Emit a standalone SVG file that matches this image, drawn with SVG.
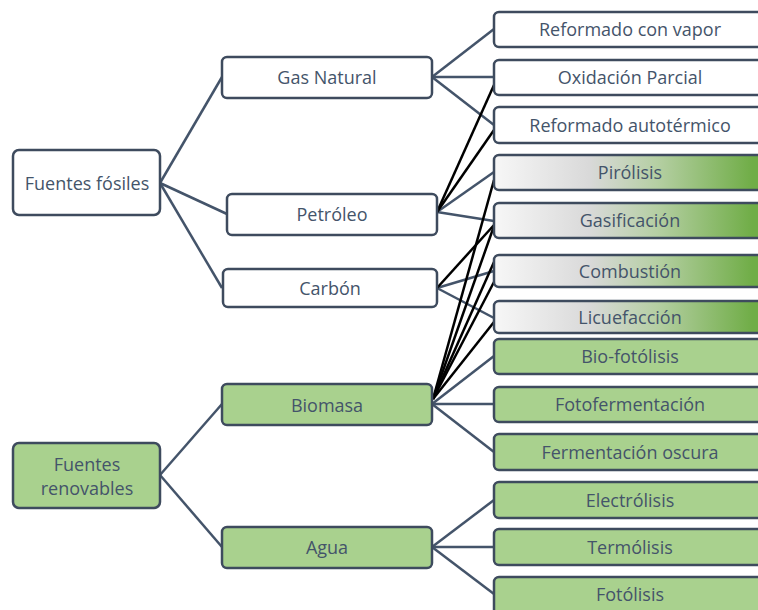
<svg xmlns="http://www.w3.org/2000/svg" width="758" height="610" viewBox="0 0 758 610">
<style>
.box{stroke:#3e4b5e;stroke-width:2.5}
.w{fill:#ffffff}
.g{fill:#a9d18e}
.gr{fill:url(#grad)}
.t{font-family:"Open Sans","Noto Sans",sans-serif;font-size:18px;fill:#44546a;text-anchor:middle;dominant-baseline:central}
.c{stroke:#44546a;stroke-width:2.5;fill:none}
.k{stroke:#000000;stroke-width:2.5;fill:none}
</style>
<defs>
<linearGradient id="grad" x1="0" y1="0" x2="1" y2="0">
<stop offset="0" stop-color="#f7f7f7"/>
<stop offset="0.35" stop-color="#d9d9d9"/>
<stop offset="0.6" stop-color="#b5cfa3"/>
<stop offset="0.95" stop-color="#70ad47"/>
<stop offset="1" stop-color="#70ad47"/>
</linearGradient>
</defs>
<rect width="758" height="610" fill="#ffffff"/>
<g id="connectors">
<line class="c" x1="160" y1="183" x2="222" y2="77"/>
<line class="c" x1="160" y1="183" x2="227" y2="214"/>
<line class="c" x1="160" y1="183" x2="222" y2="288"/>
<line class="c" x1="160" y1="475" x2="222" y2="404"/>
<line class="c" x1="160" y1="475" x2="222" y2="547"/>
<line class="c" x1="432" y1="77" x2="494" y2="29"/>
<line class="c" x1="432" y1="77" x2="494" y2="77"/>
<line class="c" x1="432" y1="77" x2="494" y2="125"/>
<line class="c" x1="437" y1="212" x2="494" y2="172"/>
<line class="c" x1="437" y1="212" x2="494" y2="221"/>
<line class="c" x1="437" y1="288" x2="494" y2="271"/>
<line class="c" x1="437" y1="288" x2="494" y2="318"/>
<line class="c" x1="432" y1="404" x2="494" y2="356"/>
<line class="c" x1="432" y1="404" x2="494" y2="404"/>
<line class="c" x1="432" y1="404" x2="494" y2="452"/>
<line class="c" x1="432" y1="547" x2="494" y2="500"/>
<line class="c" x1="432" y1="547" x2="494" y2="547"/>
<line class="c" x1="432" y1="547" x2="494" y2="594"/>
<line class="k" x1="437" y1="212" x2="494" y2="85"/>
<line class="k" x1="437" y1="212" x2="494" y2="130"/>
<line class="k" x1="437" y1="288" x2="494" y2="225"/>
<line class="k" x1="433" y1="399" x2="494" y2="180"/>
<line class="k" x1="433" y1="399" x2="494" y2="226"/>
<line class="k" x1="433" y1="399" x2="494" y2="262"/>
<line class="k" x1="433" y1="399" x2="494" y2="282"/>
<line class="k" x1="433" y1="399" x2="494" y2="322"/>
</g>
<g id="fuentes-fosiles"><rect class="box w" x="13" y="150" width="147" height="65" rx="6"/><text class="t" x="87" y="183">Fuentes fósiles</text></g>
<g id="fuentes-renovables"><rect class="box g" x="13" y="443" width="147" height="65" rx="6"/><text class="t" x="87" y="464">Fuentes</text><text class="t" x="87" y="488">renovables</text></g>
<g id="gas-natural"><rect class="box w" x="222" y="57" width="210" height="41" rx="5"/><text class="t" x="327" y="77">Gas Natural</text></g>
<g id="petroleo"><rect class="box w" x="227" y="194" width="210" height="41" rx="5"/><text class="t" x="332" y="214">Petróleo</text></g>
<g id="carbon"><rect class="box w" x="223" y="269" width="214" height="38" rx="5"/><text class="t" x="330" y="288">Carbón</text></g>
<g id="biomasa"><rect class="box g" x="222" y="384" width="210" height="41" rx="5"/><text class="t" x="327" y="405">Biomasa</text></g>
<g id="agua"><rect class="box g" x="222" y="527" width="210" height="41" rx="5"/><text class="t" x="327" y="547">Agua</text></g>
<g id="reformado-vapor"><rect class="box w" x="494" y="12" width="272" height="35" rx="5"/><text class="t" x="630" y="29">Reformado con vapor</text></g>
<g id="oxidacion-parcial"><rect class="box w" x="494" y="60" width="272" height="35" rx="5"/><text class="t" x="630" y="77">Oxidación Parcial</text></g>
<g id="reformado-autotermico"><rect class="box w" x="494" y="107" width="272" height="36" rx="5"/><text class="t" x="630" y="125">Reformado autotérmico</text></g>
<g id="pirolisis"><rect class="box gr" x="494" y="155" width="272" height="35" rx="5"/><text class="t" x="630" y="172">Pirólisis</text></g>
<g id="gasificacion"><rect class="box gr" x="494" y="203" width="272" height="35" rx="5"/><text class="t" x="630" y="220">Gasificación</text></g>
<g id="combustion"><rect class="box gr" x="494" y="255" width="272" height="32" rx="5"/><text class="t" x="630" y="271">Combustión</text></g>
<g id="licuefaccion"><rect class="box gr" x="494" y="301" width="272" height="32" rx="5"/><text class="t" x="630" y="317">Licuefacción</text></g>
<g id="bio-fotolisis"><rect class="box g" x="494" y="339" width="272" height="35" rx="5"/><text class="t" x="630" y="356">Bio-fotólisis</text></g>
<g id="fotofermentacion"><rect class="box g" x="494" y="387" width="272" height="35" rx="5"/><text class="t" x="630" y="404">Fotofermentación</text></g>
<g id="fermentacion-oscura"><rect class="box g" x="494" y="434" width="272" height="36" rx="5"/><text class="t" x="630" y="452">Fermentación oscura</text></g>
<g id="electrolisis"><rect class="box g" x="494" y="482" width="272" height="36" rx="5"/><text class="t" x="630" y="500">Electrólisis</text></g>
<g id="termolisis"><rect class="box g" x="494" y="529" width="272" height="36" rx="5"/><text class="t" x="630" y="547">Termólisis</text></g>
<g id="fotolisis"><rect class="box g" x="494" y="577" width="272" height="40" rx="5"/><text class="t" x="630" y="594">Fotólisis</text></g>
</svg>
